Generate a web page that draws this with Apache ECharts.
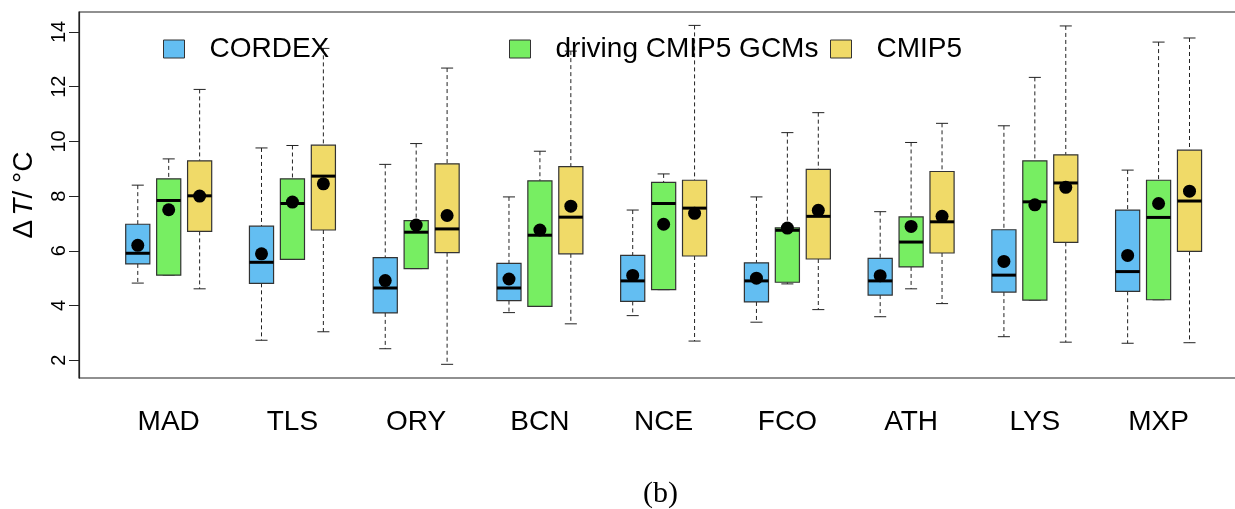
<!DOCTYPE html>
<html>
<head>
<meta charset="utf-8">
<script src="https://cdn.jsdelivr.net/npm/echarts@6/dist/echarts.min.js"></script>
<style>
  html, body { margin: 0; padding: 0; background: #fff; }
  #chart { width: 1235px; height: 509px; }
</style>
</head>
<body>
<div id="chart"></div>
<script>
// sites along the x axis
const sites = ['MAD', 'TLS', 'ORY', 'BCN', 'NCE', 'FCO', 'ATH', 'LYS', 'MXP'];
const yTicks = [2, 4, 6, 8, 10, 12, 14];

// [lower whisker, Q1, median, Q3, upper whisker] per site
const cordexBox = [
  [4.82, 5.52, 5.91, 6.97, 8.40],
  [2.73, 4.81, 5.58, 6.90, 9.76],
  [2.42, 3.73, 4.64, 5.75, 9.16],
  [3.74, 4.18, 4.64, 5.54, 7.97],
  [3.63, 4.15, 4.90, 5.83, 7.49],
  [3.39, 4.13, 4.90, 5.56, 7.97],
  [3.59, 4.38, 4.90, 5.72, 7.43],
  [2.86, 4.49, 5.11, 6.77, 10.57],
  [2.62, 4.52, 5.24, 7.49, 8.95]
];
const cordexMean = [6.20, 5.89, 4.91, 4.97, 5.10, 5.00, 5.09, 5.61, 5.83];

const gcmBox = [
  [5.11, 5.11, 7.84, 8.63, 9.36],
  [5.69, 5.69, 7.73, 8.63, 9.85],
  [5.35, 5.35, 6.68, 7.10, 9.92],
  [3.97, 3.97, 6.57, 8.56, 9.64],
  [4.58, 4.58, 7.73, 8.50, 8.81],
  [4.79, 4.85, 6.75, 6.84, 10.32],
  [4.61, 5.41, 6.32, 7.24, 9.96],
  [4.20, 4.20, 7.79, 9.29, 12.34],
  [4.21, 4.21, 7.22, 8.58, 13.63]
];
const gcmMean = [7.50, 7.78, 6.94, 6.76, 6.97, 6.83, 6.89, 7.68, 7.73];

const cmip5Box = [
  [4.61, 6.71, 8.01, 9.29, 11.90],
  [3.04, 6.76, 8.73, 9.86, 13.40],
  [1.85, 5.93, 6.80, 9.18, 12.68],
  [3.33, 5.89, 7.23, 9.08, 13.30],
  [2.70, 5.81, 7.56, 8.58, 14.24],
  [3.85, 5.70, 7.26, 8.98, 11.05],
  [4.07, 5.92, 7.06, 8.90, 10.66],
  [2.66, 6.31, 8.48, 9.51, 14.22],
  [2.64, 5.98, 7.82, 9.68, 13.78]
];
const cmip5Mean = [8.00, 8.45, 7.29, 7.63, 7.37, 7.48, 7.26, 8.32, 8.18];

const groups = [
  { name: 'CORDEX', box: cordexBox, mean: cordexMean, color: '#63bef2', offset: 1 },
  { name: 'driving CMIP5 GCMs', box: gcmBox, mean: gcmMean, color: '#77ee62', offset: 2 },
  { name: 'CMIP5', box: cmip5Box, mean: cmip5Mean, color: '#f0da68', offset: 3 }
];

// 4 slots per site: three boxes then a gap
const sitePos = sites.map((s, i) => i * 4 + 2);

function renderBox(params, api) {
  const x = api.value(0);
  const lo = api.coord([x, api.value(1)]);
  const q1 = api.coord([x, api.value(2)]);
  const md = api.coord([x, api.value(3)]);
  const q3 = api.coord([x, api.value(4)]);
  const hi = api.coord([x, api.value(5)]);
  const mn = api.coord([x, api.value(6)]);
  const w = api.size([1, 0])[0] * 0.78;
  const cx = lo[0];
  const cap = w / 2;
  const dash = { stroke: '#222', lineWidth: 1, lineDash: [4, 3] };
  const solid = { stroke: '#222', lineWidth: 1 };
  return {
    type: 'group',
    children: [
      { type: 'line', shape: { x1: cx, y1: hi[1], x2: cx, y2: q3[1] }, style: dash },
      { type: 'line', shape: { x1: cx, y1: q1[1], x2: cx, y2: lo[1] }, style: dash },
      { type: 'line', shape: { x1: cx - cap / 2, y1: hi[1], x2: cx + cap / 2, y2: hi[1] }, style: solid },
      { type: 'line', shape: { x1: cx - cap / 2, y1: lo[1], x2: cx + cap / 2, y2: lo[1] }, style: solid },
      {
        type: 'rect',
        shape: { x: cx - w / 2, y: q3[1], width: w, height: q1[1] - q3[1] },
        style: { fill: api.visual('color'), stroke: '#333', lineWidth: 1.2 }
      },
      { type: 'line', shape: { x1: cx - w / 2, y1: md[1], x2: cx + w / 2, y2: md[1] }, style: { stroke: '#000', lineWidth: 3 } },
      { type: 'circle', shape: { cx: cx, cy: mn[1], r: 6.5 }, style: { fill: '#000' } }
    ]
  };
}

const series = groups.map(g => ({
  name: g.name,
  type: 'custom',
  renderItem: renderBox,
  itemStyle: { color: g.color },
  encode: { x: 0, y: [1, 2, 3, 4, 5] },
  data: g.box.map((b, i) => [i * 4 + g.offset].concat(b, [g.mean[i]]))
}));

const legendLeft = [163, 509, 830];

const chart = echarts.init(document.getElementById('chart'));
chart.setOption({
  animation: false,
  textStyle: { fontFamily: 'Liberation Sans, Arial, sans-serif' },
  title: {
    text: '(b)',
    left: 638,
    top: 474,
    textStyle: { fontFamily: 'Liberation Serif, serif', fontWeight: 'normal', fontSize: 30, color: '#000' }
  },
  legend: groups.map((g, i) => ({
    data: [{ name: g.name, itemStyle: { borderColor: '#333', borderWidth: 1 } }],
    left: legendLeft[i],
    top: 35,
    icon: 'rect',
    itemWidth: 21,
    itemHeight: 18,
    selectedMode: false,
    padding: 0,
    textStyle: { fontSize: 28, color: '#000', padding: [0, 0, 0, 20] }
  })),
  grid: {
    left: 79,
    top: 12,
    width: 1160,
    bottom: 131,
    outerBoundsMode: 'none',
    show: true,
    borderColor: '#222',
    borderWidth: 1.2,
    backgroundColor: 'transparent'
  },
  xAxis: {
    type: 'value',
    min: -0.9,
    max: 36.6,
    splitLine: { show: false },
    axisLine: { show: false },
    axisTick: { show: false },
    axisLabel: {
      customValues: sitePos,
      margin: 30,
      fontSize: 28,
      color: '#000',
      formatter: v => sites[(v - 2) / 4]
    }
  },
  yAxis: {
    type: 'value',
    min: 1.35,
    max: 14.73,
    name: '{a|Δ}{b|T}{a|/ °C}',
    nameLocation: 'middle',
    nameGap: 41,
    nameRotate: 90,
    nameTextStyle: {
      rich: {
        a: { fontSize: 28, color: '#000', fontFamily: 'Liberation Sans' },
        b: { fontSize: 28, color: '#000', fontStyle: 'italic', fontFamily: 'Liberation Sans', padding: [0, 0, 0, 4] }
      }
    },
    splitLine: { show: false },
    axisLine: { show: true, onZero: false, lineStyle: { color: '#222', width: 1.2 } },
    axisTick: { show: true, customValues: yTicks, length: 10, lineStyle: { color: '#222' } },
    axisLabel: {
      customValues: yTicks,
      rotate: 90,
      margin: 10,
      fontSize: 20,
      color: '#000'
    }
  },
  series: series
});
</script>
</body>
</html>
